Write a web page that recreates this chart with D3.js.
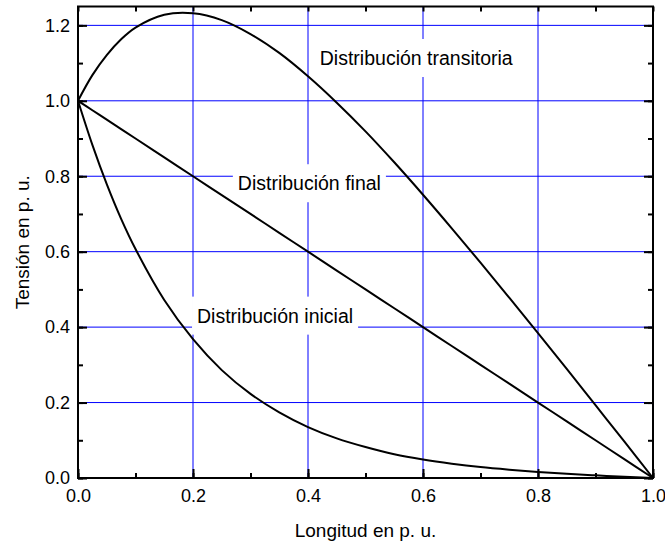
<!DOCTYPE html>
<html>
<head>
<meta charset="utf-8">
<script src="https://cdn.jsdelivr.net/npm/d3@7"></script>
<style>
  body { margin: 0; background: #fff; }
  text { font-family: "Liberation Sans", Arial, sans-serif; }
</style>
</head>
<body>
<script>
// Longitud (p. u.) where the curves were read
var xs = [0, 0.025, 0.05, 0.075, 0.1, 0.15, 0.2, 0.25, 0.3, 0.35, 0.4, 0.45, 0.5,
          0.55, 0.6, 0.65, 0.7, 0.75, 0.8, 0.85, 0.9, 0.95, 1];
// Tension values
var inicial = [1, 0.883, 0.779, 0.687, 0.607, 0.472, 0.368, 0.286, 0.223, 0.174, 0.135, 0.105, 0.082,
               0.063, 0.049, 0.038, 0.029, 0.022, 0.016, 0.011, 0.007, 0.003, 0];
var final = [1, 0.975, 0.95, 0.925, 0.9, 0.85, 0.8, 0.75, 0.7, 0.65, 0.6, 0.55, 0.5,
             0.45, 0.4, 0.35, 0.3, 0.25, 0.2, 0.15, 0.1, 0.05, 0];
var transitoria = [1, 1.068, 1.121, 1.163, 1.194, 1.228, 1.232, 1.214, 1.177, 1.127, 1.065, 0.995, 0.919,
                   0.837, 0.751, 0.662, 0.571, 0.478, 0.384, 0.289, 0.193, 0.097, 0];
var xTicks = [0, 0.2, 0.4, 0.6, 0.8, 1.0];
var yTicks = [0, 0.2, 0.4, 0.6, 0.8, 1.0, 1.2];
var labels = [
  {text: "Distribución transitoria", x: 0.4205, y: 1.113},
  {text: "Distribución final", x: 0.278, y: 0.781},
  {text: "Distribución inicial", x: 0.207, y: 0.43}
];

var width = 665, height = 546;
// plot box (note: "top" is taken by window.top)
var pLeft = 78, pRight = 653, pTop = 6.5, pBottom = 478;

var svg = d3.select("body").append("svg")
    .attr("width", width)
    .attr("height", height);

var x = d3.scaleLinear().domain([0, 1]).range([pLeft, pRight]);
var y = d3.scaleLinear().domain([0, 1.25]).range([pBottom, pTop]);

// grid
var grid = svg.append("g").attr("class", "grid");
grid.selectAll("line.v")
  .data(xTicks.slice(1, -1))
  .enter().append("line")
  .attr("class", "v")
  .attr("x1", function(d) { return x(d); })
  .attr("x2", function(d) { return x(d); })
  .attr("y1", pTop)
  .attr("y2", pBottom)
  .attr("stroke", "#0000ff")
  .attr("stroke-width", 1);
grid.selectAll("line.h")
  .data(yTicks.slice(1))
  .enter().append("line")
  .attr("class", "h")
  .attr("x1", pLeft)
  .attr("x2", pRight)
  .attr("y1", function(d) { return y(d); })
  .attr("y2", function(d) { return y(d); })
  .attr("stroke", "#0000ff")
  .attr("stroke-width", 1);

// label boxes hide the grid
var labelLayer = svg.append("g");
labels.forEach(function(l) {
  var g = labelLayer.append("g");
  var r = g.append("rect").attr("fill", "#fff");
  var t = g.append("text")
    .attr("x", x(l.x))
    .attr("y", y(l.y))
    .attr("dy", "0.35em")
    .attr("font-size", 19.5)
    .attr("fill", "#000")
    .text(l.text);
  var b = t.node().getBBox();
  r.attr("x", b.x - 5)
    .attr("y", b.y + b.height / 2 - 19)
    .attr("width", b.width + 10)
    .attr("height", 38);
});

// curves
var line = d3.line()
  .x(function(d, i) { return x(xs[i]); })
  .y(function(d) { return y(d); })
  .curve(d3.curveCatmullRom.alpha(0.5));

[inicial, final, transitoria].forEach(function(s) {
  svg.append("path")
    .datum(s)
    .attr("d", line)
    .attr("fill", "none")
    .attr("stroke", "#000")
    .attr("stroke-width", 2);
});

// frame and ticks
var axisStyle = function(g) {
  g.select(".domain").remove();
  g.selectAll(".tick line").attr("stroke", "#000").attr("stroke-width", 2);
  g.selectAll(".tick text").attr("font-size", 18).attr("fill", "#000")
    .attr("font-family", "Liberation Sans, Arial, sans-serif");
};
var xMinor = d3.range(0, 11).map(function(i) { return i / 10; });
var yMinor = d3.range(0, 13).map(function(i) { return i / 10; });

svg.append("g").attr("transform", "translate(0," + pBottom + ")")
  .call(d3.axisBottom(x).tickValues(xTicks).tickFormat(d3.format(".1f")).tickSizeInner(-9).tickPadding(11))
  .call(axisStyle);
svg.append("g").attr("transform", "translate(0," + pBottom + ")")
  .call(d3.axisBottom(x).tickValues(xMinor).tickFormat("").tickSizeInner(-5).tickSizeOuter(0))
  .call(axisStyle);
svg.append("g").attr("transform", "translate(0," + pTop + ")")
  .call(d3.axisTop(x).tickValues(xMinor).tickFormat("").tickSizeInner(-5).tickSizeOuter(0))
  .call(axisStyle);
svg.append("g").attr("transform", "translate(" + pLeft + ",0)")
  .call(d3.axisLeft(y).tickValues(yTicks).tickFormat(d3.format(".1f")).tickSizeInner(-9).tickPadding(8))
  .call(axisStyle);
svg.append("g").attr("transform", "translate(" + pLeft + ",0)")
  .call(d3.axisLeft(y).tickValues(yMinor).tickFormat("").tickSizeInner(-5).tickSizeOuter(0))
  .call(axisStyle);
svg.append("g").attr("transform", "translate(" + pRight + ",0)")
  .call(d3.axisRight(y).tickValues(yTicks).tickFormat("").tickSizeInner(-9).tickSizeOuter(0))
  .call(axisStyle);
svg.append("g").attr("transform", "translate(" + pRight + ",0)")
  .call(d3.axisRight(y).tickValues(yMinor).tickFormat("").tickSizeInner(-5).tickSizeOuter(0))
  .call(axisStyle);

svg.append("rect")
  .attr("x", pLeft)
  .attr("y", pTop)
  .attr("width", pRight - pLeft)
  .attr("height", pBottom - pTop)
  .attr("fill", "none")
  .attr("stroke", "#000")
  .attr("stroke-width", 2);

// axis titles
svg.append("text")
  .attr("x", (pLeft + pRight) / 2)
  .attr("y", 537)
  .attr("text-anchor", "middle")
  .attr("font-size", 19)
  .text("Longitud en p. u.");
svg.append("text")
  .attr("transform", "translate(29," + ((pTop + pBottom) / 2) + ") rotate(-90)")
  .attr("text-anchor", "middle")
  .attr("font-size", 19)
  .text("Tensión en p. u.");
</script>
</body>
</html>
